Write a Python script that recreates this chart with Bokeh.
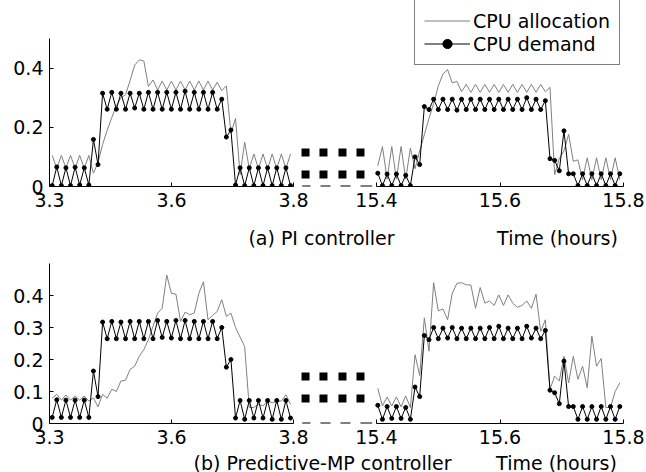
import numpy as np
from bokeh.plotting import figure
from bokeh.layouts import column, row
from bokeh.models import Range1d, FixedTicker, Legend, LegendItem, Label
from bokeh.embed import file_html
from bokeh.resources import INLINE

# ---------------- data ----------------
N_SAMPLES = 53
LEFT_T0, LEFT_DT = 3.3055, 0.009392      # sample times, left segment (hours)
RIGHT_T0, RIGHT_DT = 15.4021, 0.007537   # sample times, right segment (hours)

LEFT_TICKS = [3.3, 3.55, 3.8]
LEFT_TICK_LABELS = ["3.3", "3.6", "3.8"]
RIGHT_TICKS = [15.4, 15.6, 15.8]
RIGHT_TICK_LABELS = ["15.4", "15.6", "15.8"]
A_Y_TICKS = [0.0, 0.2, 0.4]
A_Y_LABELS = ["0", "0.2", "0.4"]
B_Y_TICKS = [0.0, 0.1, 0.2, 0.3, 0.4]
B_Y_LABELS = ["0", "0.1", "0.2", "0.3", "0.4"]

# (a) PI controller
A_LEFT_DEMAND = [0.003, 0.066, 0.003, 0.063, 0.003, 0.065, 0.005, 0.063, 0.005, 0.159, 0.074,
                 0.315, 0.261, 0.318, 0.261, 0.315, 0.261, 0.315, 0.265, 0.315, 0.261, 0.318, 0.261,
                 0.318, 0.261, 0.318, 0.261, 0.318, 0.261, 0.322, 0.261, 0.318, 0.261, 0.318, 0.261,
                 0.318, 0.261,
                 0.295, 0.167, 0.191,
                 0.005, 0.063, 0.003, 0.063, 0.003, 0.063, 0.003, 0.063, 0.003, 0.063, 0.003, 0.063, 0.003]
A_LEFT_ALLOC = [0.105, 0.062, 0.105, 0.062, 0.105, 0.062, 0.105, 0.062, 0.105, 0.045, 0.08,
                0.142, 0.19, 0.233, 0.273, 0.30, 0.31, 0.358, 0.41, 0.428, 0.424, 0.338, 0.36,
                0.326, 0.356, 0.326, 0.356, 0.326, 0.356, 0.326, 0.356, 0.326, 0.356, 0.326, 0.356,
                0.326, 0.352,
                0.324, 0.34, 0.18,
                0.23, 0.04, 0.15, 0.06, 0.11, 0.06, 0.11, 0.06, 0.11, 0.06, 0.11, 0.06, 0.11]
A_RIGHT_DEMAND = [0.045, 0.003, 0.042, 0.003, 0.042, 0.003, 0.038, 0.003, 0.10, 0.074,
                  0.27, 0.26, 0.295, 0.26, 0.295, 0.26, 0.295, 0.258, 0.295, 0.26, 0.295, 0.26,
                  0.295, 0.26, 0.295, 0.26, 0.295, 0.26, 0.295, 0.26, 0.295, 0.26, 0.30, 0.26,
                  0.295, 0.26, 0.29,
                  0.094, 0.088, 0.053, 0.188, 0.043, 0.043,
                  0.003, 0.043, 0.003, 0.043, 0.003, 0.043, 0.003, 0.043, 0.003, 0.043]
A_RIGHT_ALLOC = [0.07, 0.135, 0.025, 0.135, 0.025, 0.135, 0.025, 0.13, 0.06, 0.12,
                 0.175, 0.23, 0.28, 0.34, 0.38, 0.395, 0.35, 0.355, 0.32, 0.345, 0.318, 0.345,
                 0.318, 0.345, 0.318, 0.345, 0.318, 0.345, 0.318, 0.345, 0.318, 0.345, 0.318, 0.345,
                 0.318, 0.345, 0.32,
                 0.335, 0.04, 0.095, 0.12, 0.176, 0.085,
                 0.09, 0.023, 0.097, 0.023, 0.097, 0.023, 0.097, 0.023, 0.097, 0.023]

# (b) Predictive-MP controller
B_LEFT_DEMAND = [0.019, 0.074, 0.019, 0.073, 0.019, 0.073, 0.019, 0.073, 0.019, 0.164, 0.084,
                 0.317, 0.265, 0.319, 0.265, 0.317, 0.265, 0.319, 0.265, 0.319, 0.265, 0.319, 0.265,
                 0.322, 0.269, 0.319, 0.267, 0.322, 0.265, 0.322, 0.265, 0.319, 0.265, 0.319, 0.265,
                 0.319, 0.265,
                 0.30, 0.176, 0.20,
                 0.017, 0.072, 0.013, 0.072, 0.017, 0.072, 0.017, 0.072, 0.013, 0.072, 0.013, 0.072, 0.017]
B_LEFT_ALLOC = [0.079, 0.091, 0.073, 0.089, 0.073, 0.086, 0.073, 0.086, 0.07, 0.08, 0.052,
                0.091, 0.079, 0.107, 0.10, 0.133, 0.135, 0.169, 0.179, 0.21, 0.231, 0.262, 0.304,
                0.345, 0.36, 0.464, 0.407, 0.404, 0.319, 0.348, 0.34, 0.345, 0.407, 0.443, 0.324,
                0.338, 0.35,
                0.387, 0.335, 0.345,
                0.30, 0.27, 0.24, 0.05, 0.05, 0.06, 0.055, 0.07, 0.065, 0.07, 0.07, 0.09, 0.06]
B_RIGHT_DEMAND = [0.057, 0.013, 0.053, 0.016, 0.053, 0.016, 0.05, 0.013, 0.114, 0.084,
                  0.275, 0.262, 0.30, 0.265, 0.298, 0.267, 0.30, 0.265, 0.298, 0.265, 0.298, 0.265,
                  0.298, 0.265, 0.30, 0.265, 0.304, 0.265, 0.298, 0.265, 0.298, 0.265, 0.304, 0.267,
                  0.298, 0.265, 0.291,
                  0.104, 0.096, 0.062, 0.195, 0.053, 0.053,
                  0.013, 0.053, 0.013, 0.053, 0.013, 0.053, 0.013, 0.053, 0.013, 0.053]
B_RIGHT_ALLOC = [0.11, 0.055, 0.083, 0.055, 0.083, 0.052, 0.086, 0.05, 0.215, 0.15,
                 0.33, 0.226, 0.44, 0.352, 0.358, 0.324, 0.407, 0.438, 0.44, 0.433, 0.433, 0.36,
                 0.425, 0.376, 0.383, 0.369, 0.402, 0.369, 0.402, 0.376, 0.363, 0.369, 0.383, 0.36,
                 0.404, 0.288, 0.324,
                 0.107, 0.148, 0.133, 0.21, 0.127, 0.21,
                 0.138, 0.179, 0.112, 0.273, 0.179, 0.203, 0.05, 0.05, 0.10, 0.127]

CAPTION_A = "(a) PI controller"
CAPTION_B = "(b) Predictive-MP controller"
X_LABEL = "Time (hours)"
LEGEND_LABELS = ["CPU allocation", "CPU demand"]

# ---------------- styling / layout ----------------
FONT = "DejaVu Sans"
FS = "19px"
GRAY = "#808080"

TOTAL_W = 646
LEFT_W, RIGHT_W = 334, 312
LEFT_BORDER = 49          # room for the y tick labels
LEFT_SEG_PX = 244         # 3.3 -> 3.8
RIGHT_BORDER = 23         # room for the last tick label
RIGHT_SEG_PX = 247        # 15.4 -> 15.8
LEFT_GAP_PX = LEFT_W - LEFT_BORDER - LEFT_SEG_PX
RIGHT_GAP_PX = RIGHT_W - RIGHT_BORDER - RIGHT_SEG_PX
GAP_PX = LEFT_GAP_PX + RIGHT_GAP_PX

# axis-break decoration (fractions of the gap between the two segments)
SQUARE_FRAC = [0.145, 0.361, 0.59, 0.807]
DASH_FRAC = [(0.105, 0.205), (0.325, 0.446), (0.566, 0.687), (0.807, 0.948)]

t_left = LEFT_T0 + LEFT_DT * np.arange(N_SAMPLES)
t_right = RIGHT_T0 + RIGHT_DT * np.arange(N_SAMPLES)

left_x_end = LEFT_TICKS[0] + (LEFT_TICKS[-1] - LEFT_TICKS[0]) * (LEFT_W - LEFT_BORDER) / LEFT_SEG_PX
right_x_start = RIGHT_TICKS[0] - (RIGHT_TICKS[-1] - RIGHT_TICKS[0]) * RIGHT_GAP_PX / RIGHT_SEG_PX


def gap_x(frac):
    g = frac * GAP_PX
    if g <= LEFT_GAP_PX:
        return "L", LEFT_TICKS[-1] + g * (LEFT_TICKS[-1] - LEFT_TICKS[0]) / LEFT_SEG_PX
    return "R", RIGHT_TICKS[0] - (GAP_PX - g) * (RIGHT_TICKS[-1] - RIGHT_TICKS[0]) / RIGHT_SEG_PX


def style_axis(ax, ticks, labels, standoff=6):
    ax.ticker = FixedTicker(ticks=ticks, minor_ticks=[])
    ax.major_label_overrides = {float(t): l for t, l in zip(ticks, labels)}
    ax.major_tick_in = 4
    ax.major_tick_out = 0
    ax.minor_tick_line_color = None
    ax.axis_line_color = "black"
    ax.major_tick_line_color = "black"
    ax.major_label_text_font = FONT
    ax.major_label_text_font_size = FS
    ax.major_label_text_color = "black"
    ax.major_label_standoff = standoff


def make_fig(width, height, xr, yr, borders, with_y):
    p = figure(width=width, height=height, x_range=xr, y_range=yr,
               output_backend="svg", toolbar_location=None, title=None,
               min_border_left=borders[0], min_border_right=borders[1],
               min_border_top=borders[2], min_border_bottom=borders[3],
               y_axis_type="linear" if with_y else None)
    p.outline_line_color = None
    p.grid.visible = False
    return p


def draw_series(p, t, alloc, demand):
    ra = p.line(t, alloc, line_color=GRAY, line_width=1)
    rl = p.line(t, demand, line_color="black", line_width=1)
    rd = p.scatter(t, demand, marker="circle", size=4, color="black", line_width=1)
    return ra, rl, rd


def draw_break(pl, pr, rows):
    for side, p in (("L", pl), ("R", pr)):
        xs = [gap_x(f)[1] for f in SQUARE_FRAC if gap_x(f)[0] == side]
        sx = [x for r in rows for x in xs]
        sy = [r for r in rows for x in xs]
        p.scatter(sx, sy, marker="square", size=8, color="black", line_width=0)
        d = [(gap_x(a)[1], gap_x(b)[1]) for a, b in DASH_FRAC if gap_x(a)[0] == side]
        p.segment(x0=[a for a, b in d], y0=[0] * len(d), x1=[b for a, b in d], y1=[0] * len(d),
                  line_color="black", line_width=2)


def build_panel(height, top, bottom, axis_top_px, y_ticks, y_labels,
                la, ld, ra_, rd_, rows, legend=False):
    # frame spans [top, height-bottom]; y=0.5 sits axis_top_px below the frame top
    frame_h = height - top - bottom
    y_end = 0.5 * frame_h / (frame_h - axis_top_px)
    pl = make_fig(LEFT_W, height, Range1d(LEFT_TICKS[0], left_x_end), Range1d(0, y_end),
                  (LEFT_BORDER, 0, top, bottom), True)
    pr = make_fig(RIGHT_W, height, Range1d(right_x_start, RIGHT_TICKS[-1]), Range1d(0, y_end),
                  (0, RIGHT_BORDER, top, bottom), False)
    style_axis(pl.xaxis[0], LEFT_TICKS, LEFT_TICK_LABELS)
    pl.xaxis[0].bounds = (LEFT_TICKS[0], LEFT_TICKS[-1])
    style_axis(pl.yaxis[0], y_ticks, y_labels, standoff=6)
    pl.yaxis[0].bounds = (0, 0.5)
    style_axis(pr.xaxis[0], RIGHT_TICKS, RIGHT_TICK_LABELS)
    pr.xaxis[0].bounds = (RIGHT_TICKS[0], RIGHT_TICKS[-1])

    draw_series(pl, t_left, la, ld)
    r_alloc, r_line, r_dots = draw_series(pr, t_right, ra_, rd_)
    draw_break(pl, pr, rows)

    if legend:
        lg_h = 64
        lg = Legend(items=[LegendItem(label=LEGEND_LABELS[0], renderers=[r_alloc]),
                           LegendItem(label=LEGEND_LABELS[1], renderers=[r_line, r_dots])],
                    location=(80, frame_h - 1 - lg_h), margin=0, padding=9, spacing=0,
                    glyph_width=46, glyph_height=23, label_height=23, label_standoff=3,
                    label_text_font=FONT, label_text_font_size=FS, label_text_color="black",
                    border_line_color="black", border_line_width=1,
                    background_fill_color="white", background_fill_alpha=1.0)
        pr.add_layout(lg)
    return row(pl, pr, spacing=0)


def caption(height, y, texts):
    c = figure(width=TOTAL_W, height=height, x_range=Range1d(0, TOTAL_W), y_range=Range1d(0, height),
               output_backend="svg", toolbar_location=None, title=None, min_border=0,
               x_axis_type=None, y_axis_type=None)
    c.outline_line_color = None
    for x, t in texts:
        c.add_layout(Label(x=x, y=y, text=t, text_align="center", text_baseline="middle",
                           text_font=FONT, text_font_size=FS, text_color="black"))
    return c


# panel (a): frame from the very top (legend lives there), y-axis drawn from 0 to 0.5
row_a = build_panel(215, 0, 29, 38, A_Y_TICKS, A_Y_LABELS,
                    A_LEFT_ALLOC, A_LEFT_DEMAND, A_RIGHT_ALLOC, A_RIGHT_DEMAND,
                    rows=[0.0405, 0.115], legend=True)
cap_a = caption(33, 11, [(321, CAPTION_A), (557, X_LABEL)])
row_b = build_panel(204, 15, 29, 0, B_Y_TICKS, B_Y_LABELS,
                    B_LEFT_ALLOC, B_LEFT_DEMAND, B_RIGHT_ALLOC, B_RIGHT_DEMAND,
                    rows=[0.078, 0.147])
cap_b = caption(20, 10, [(322, CAPTION_B), (556, X_LABEL)])

layout = column(row_a, cap_a, row_b, cap_b, spacing=0)

with open("out.html", "w") as f:
    f.write(file_html(layout, INLINE))
